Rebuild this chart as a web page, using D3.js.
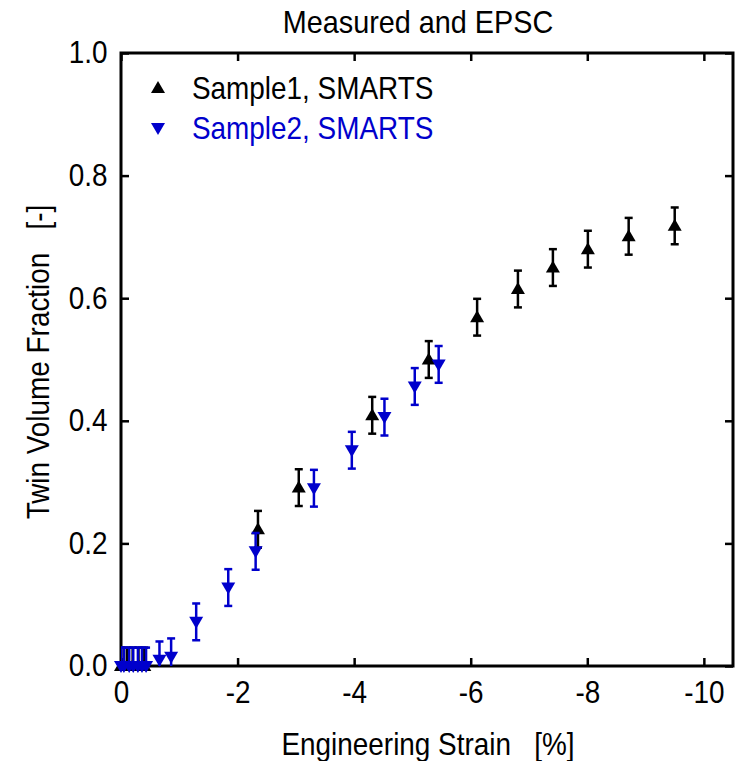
<!DOCTYPE html>
<html>
<head>
<meta charset="utf-8">
<script src="https://cdn.jsdelivr.net/npm/d3@7"></script>
<style>
  body { margin: 0; background: #fff; }
  text { font-family: "Liberation Sans", Arial, sans-serif; }
</style>
</head>
<body>
<div id="chart"></div>
<script>
const width = 740;
const height = 761;

// Sample1, SMARTS (black, up triangles)
const sample1Strain = [0, -0.1, -0.2, -0.3, -0.4, -2.35, -3.05, -4.31, -5.28, -6.11, -6.81, -7.41, -8.01, -8.71, -9.5];
const sample1Frac = [0, 0, 0, 0, 0, 0.223, 0.291, 0.409, 0.5, 0.569, 0.615, 0.65, 0.68, 0.701, 0.718];
const sample1Err = [0.03, 0.03, 0.03, 0.03, 0.03, 0.03, 0.03, 0.03, 0.03, 0.03, 0.03, 0.03, 0.03, 0.03, 0.03];

// Sample2, SMARTS (blue, down triangles)
const sample2Strain = [0, -0.05, -0.14, -0.21, -0.29, -0.36, -0.43, -0.66, -0.86, -1.29, -1.84, -2.31, -3.31, -3.96, -4.52, -5.04, -5.45];
const sample2Frac = [0, 0, 0, 0, 0, 0, 0, 0.01, 0.015, 0.072, 0.128, 0.187, 0.29, 0.352, 0.406, 0.456, 0.492];
const sample2Err = [0.03, 0.03, 0.03, 0.03, 0.03, 0.03, 0.03, 0.03, 0.03, 0.03, 0.03, 0.03, 0.03, 0.03, 0.03, 0.03, 0.03];

const xTicks = [0, -2, -4, -6, -8, -10];
const yTicks = [0, 0.2, 0.4, 0.6, 0.8, 1.0];

const margin = { left: 121, right: 7, top: 53, bottom: 95 };
const fontSize = 31;
const squeeze = "scale(0.9,1)"; // reference text is a bit condensed

const svg = d3.select("#chart").append("svg")
  .attr("width", width)
  .attr("height", height);

const x = d3.scaleLinear().domain([0, -10.5]).range([margin.left, width - margin.right]);
const y = d3.scaleLinear().domain([0, 1]).range([height - margin.bottom, margin.top]);

svg.append("clipPath").attr("id", "plotclip")
  .append("rect")
  .attr("x", x(0)).attr("y", y(1))
  .attr("width", x(-10.5) - x(0)).attr("height", y(0) - y(1));

// frame with inward ticks on all sides
const tickLen = 8;
svg.append("g").attr("transform", `translate(0,${y(0)})`)
  .call(d3.axisBottom(x).tickValues(xTicks).tickSizeInner(-tickLen).tickSizeOuter(0).tickPadding(15)
    .tickFormat(d => String(d)))
  .call(g => g.select(".domain").remove())
  .call(g => g.selectAll("line").attr("stroke-width", 2.5))
  .call(g => g.selectAll("text").attr("font-size", fontSize).attr("fill", "#000")
    .attr("transform", squeeze));

svg.append("g").attr("transform", `translate(0,${y(1)})`)
  .call(d3.axisTop(x).tickValues(xTicks).tickSizeInner(-tickLen).tickSizeOuter(0).tickFormat(""))
  .call(g => g.select(".domain").remove())
  .call(g => g.selectAll("line").attr("stroke-width", 2.5));

svg.append("g").attr("transform", `translate(${x(0)},0)`)
  .call(d3.axisLeft(y).tickValues(yTicks).tickSizeInner(-tickLen).tickSizeOuter(0).tickPadding(15)
    .tickFormat(d3.format(".1f")))
  .call(g => g.select(".domain").remove())
  .call(g => g.selectAll("line").attr("stroke-width", 2.5))
  .call(g => g.selectAll("text").attr("font-size", fontSize).attr("fill", "#000")
    .attr("transform", squeeze));

svg.append("g").attr("transform", `translate(${x(-10.5)},0)`)
  .call(d3.axisRight(y).tickValues(yTicks).tickSizeInner(-tickLen).tickSizeOuter(0).tickFormat(""))
  .call(g => g.select(".domain").remove())
  .call(g => g.selectAll("line").attr("stroke-width", 2.5));

svg.append("rect")
  .attr("x", x(0)).attr("y", y(1))
  .attr("width", x(-10.5) - x(0)).attr("height", y(0) - y(1))
  .attr("fill", "none").attr("stroke", "#000").attr("stroke-width", 3);

// markers
function triPath(up) {
  const w = 7, a = 7, b = 5;
  return up
    ? `M0,${-a}L${w},${b}L${-w},${b}Z`
    : `M0,${a}L${w},${-b}L${-w},${-b}Z`;
}

function drawSeries(strain, frac, err, color, up) {
  const data = strain.map((s, i) => ({ s: s, f: frac[i], e: err[i] }));
  const g = svg.append("g");
  const bars = g.append("g").attr("clip-path", "url(#plotclip)")
    .attr("stroke", color).attr("stroke-width", 2.5).attr("fill", "none");
  data.forEach(d => {
    const cx = x(d.s);
    bars.append("line").attr("x1", cx).attr("x2", cx).attr("y1", y(d.f - d.e)).attr("y2", y(d.f + d.e));
    bars.append("line").attr("x1", cx - 4).attr("x2", cx + 4).attr("y1", y(d.f + d.e)).attr("y2", y(d.f + d.e));
    bars.append("line").attr("x1", cx - 4).attr("x2", cx + 4).attr("y1", y(d.f - d.e)).attr("y2", y(d.f - d.e));
  });
  g.selectAll("path.mark")
    .data(data)
    .enter()
    .append("path")
    .attr("class", "mark")
    .attr("d", triPath(up))
    .attr("transform", d => `translate(${x(d.s)},${y(d.f)})`)
    .attr("fill", color);
}

drawSeries(sample1Strain, sample1Frac, sample1Err, "#000", true);
drawSeries(sample2Strain, sample2Frac, sample2Err, "#0000cc", false);

function label(px, py, txt, opts) {
  const t = svg.append("text")
    .attr("transform", `translate(${px},${py})` + (opts.rotate ? " rotate(-90)" : "") + " " + squeeze)
    .attr("dy", "0.35em")
    .attr("font-size", opts.size || fontSize)
    .attr("fill", opts.color || "#000")
    .attr("text-anchor", opts.anchor || "start")
    .style("white-space", "pre")
    .text(txt);
  return t;
}

// legend
svg.append("path").attr("d", triPath(true)).attr("transform", "translate(158,88)").attr("fill", "#000");
label(192, 88, "Sample1, SMARTS", {});
svg.append("path").attr("d", triPath(false)).attr("transform", "translate(158,128)").attr("fill", "#0000cc");
label(192, 128, "Sample2, SMARTS", { color: "#0000cc" });

// titles
label(418, 22, "Measured and EPSC", { anchor: "middle", size: 32 });
label(428, 744, "Engineering Strain   [%]", { anchor: "middle" });
label(38, 362, "Twin Volume Fraction   [-]", { anchor: "middle", rotate: true });
</script>
</body>
</html>
